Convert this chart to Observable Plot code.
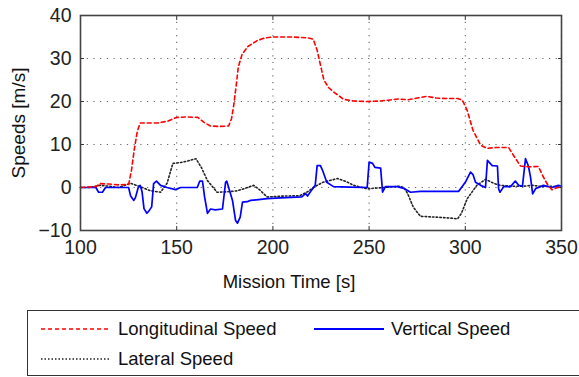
<!DOCTYPE html>
<html>
<head>
<meta charset="utf-8">
<script src="https://cdn.jsdelivr.net/npm/d3@7"></script>
<script src="https://cdn.jsdelivr.net/npm/@observablehq/plot@0.6"></script>
<style>
  body { margin: 0; background: #fff; font-family: "Liberation Sans", Arial, sans-serif; }
  #wrap { position: relative; width: 579px; height: 377px; overflow: hidden; }
  #chart { position: absolute; left: 0; top: 0; }
  #legend { position: absolute; left: 27px; top: 310px; width: 570px; height: 66px; border: 1px solid #333; box-sizing: border-box; font-size: 18.5px; color: #111; }
  .item { position: absolute; display: flex; align-items: center; height: 22px; }
  .item svg { margin-right: 6px; }
</style>
</head>
<body>
<div id="wrap">
  <div id="chart"></div>
  <div id="legend"></div>
</div>
<script>
// ---- data ----
const xTicks = [100, 150, 200, 250, 300, 350];
const yTicks = [-10, 0, 10, 20, 30, 40];

const longT = [100, 108, 110, 115, 120, 125, 126.5, 128, 129.5, 131, 140, 145, 150, 155, 161, 164, 167.5, 172, 177, 178.5, 179.6, 181, 182, 184, 187, 192, 196, 200, 210, 218, 221, 223, 226.5, 229, 231.6, 236.8, 242, 249, 255, 260, 265, 270, 275, 280, 285, 290, 296, 298.5, 301, 304, 308, 311.5, 316, 322.5, 325, 328.7, 333, 338, 340.5, 343, 345, 348, 350];
const longV = [0, 0.2, 0.9, 0.8, 0.6, 0.7, 4, 9, 13, 15, 15, 15.4, 16.3, 16.4, 16.3, 15.2, 14.3, 14.2, 14.3, 16, 19, 24, 28, 31, 32.8, 34.2, 34.8, 35, 35, 34.8, 34.5, 31.9, 25, 23.2, 22.2, 20.5, 20.1, 20, 20.1, 20.3, 20.6, 20.4, 20.8, 21.2, 20.8, 20.7, 20.7, 20.3, 17.9, 13.3, 9.8, 9.1, 9.3, 9.3, 7.5, 5, 4.8, 4.9, 2.5, 0.5, -0.5, 0, 0];

const latT = [100, 105, 110, 115, 120, 126, 131, 136, 141.6, 145, 148, 152, 156, 160, 163, 166, 171, 176, 181, 185, 190, 193, 197, 205, 214, 218, 221, 226, 233.6, 238, 242, 249, 258, 266, 268, 270, 273, 276.7, 285, 292, 296, 298, 301, 306, 310.5, 314.7, 318, 325, 330, 335, 340, 345, 350];
const latV = [0, 0, 0.5, 0.3, 0, 1, 0.2, -0.7, -1.1, 1, 5.6, 5.8, 6.2, 6.7, 4.5, 1.6, -1.1, -1, -0.8, -0.3, 0.5, -0.5, -2.2, -2, -1.9, -1, 0, 1.2, 2.1, 1.4, 0.5, -0.3, 0, 0.3, 0, -1.4, -4.6, -6.7, -6.9, -7.1, -7.3, -6, -2.6, 0.5, 1.9, 1, 0.5, 0.3, 0.3, 0.5, 0.2, 0.3, 0];

const vertT = [100, 108, 109.4, 111.4, 113, 125, 126, 127.7, 128.6, 130, 131, 132, 133, 134.5, 135.5, 137, 138, 139.5, 141.6, 145, 149.4, 152, 160.7, 162, 163.4, 164.5, 166, 167.6, 170, 173.8, 175.4, 176, 177, 179, 180.6, 181.6, 183, 184.2, 186.6, 188.4, 197, 204, 215, 217, 218, 219.5, 222, 223, 224.7, 225.8, 228, 231.5, 240, 249, 250, 251.8, 253, 256, 257, 258.5, 264.7, 268, 271.5, 276.7, 296.5, 298.5, 300, 302.7, 304, 305.3, 308, 310.5, 311.5, 314, 316.7, 317.3, 318, 320, 323.5, 326, 327.7, 329.7, 331.3, 332.8, 333.9, 335, 336.5, 340.6, 345, 348.4, 350];
const vertV = [0, 0, -1.1, -1.1, 0, 0, -1.9, -3, -2.3, 0, 0.5, -1, -4.9, -6, -5.5, -4.5, 0.9, 1.5, 0.5, 0, -0.5, 0, 0, 1.5, 1.5, -2.2, -6, -5, -5.2, -5, 1.2, 1.5, 0, -3, -7.7, -8.3, -6.9, -3.4, -3.3, -3, -2.6, -2.4, -2.2, -1.4, -2, -1, 0.5, 5.1, 5.1, 4, 1.2, 0.2, 0.1, 0, 5.9, 5.6, 4.7, 4.5, -1.1, 0.2, 0.2, -0.2, -1.1, -0.9, -0.9, 0.3, 1.2, 3.6, 3, 1.2, 0.5, 0, 6.3, 5.1, 5, -0.3, -1.1, 0.2, 0.2, 1.5, 0.5, 0.3, 6.7, 5, 2.4, -1.5, -0.3, 0.5, 0, 0.5, 0.3];

const seriesNames = ["Longitudinal Speed", "Vertical Speed", "Lateral Speed"];
const xLabel = "Mission Time [s]";
const yLabel = "Speeds [m/s]";

// ---- build tables ----
const longData = longT.map((t, i) => ({t, v: longV[i]}));
const latData = latT.map((t, i) => ({t, v: latV[i]}));
const vertData = vertT.map((t, i) => ({t, v: vertV[i]}));

const gridStyle = {stroke: "#666", strokeOpacity: 1, strokeDasharray: "1.2,5.5", strokeWidth: 1.1};

const chart = Plot.plot({
  width: 579,
  height: 305,
  marginLeft: 80,
  marginRight: 18,
  marginTop: 15,
  marginBottom: 75,
  style: {fontFamily: "Liberation Sans, Arial, sans-serif", fontSize: "19px", color: "#222", background: "#fff"},
  x: {domain: [100, 350], ticks: xTicks},
  y: {domain: [-10, 40], ticks: yTicks},
  marks: [
    Plot.gridX(xTicks, gridStyle),
    Plot.gridY(yTicks, gridStyle),
    Plot.axisX({ticks: xTicks, tickSize: 0, tickPadding: 10, fontSize: 19.5, label: null}),
    Plot.axisY({ticks: yTicks, tickSize: 0, tickPadding: 9, fontSize: 19.5, label: null}),
    Plot.axisX({ticks: xTicks, anchor: "bottom", tickSize: -4, tickFormat: () => "", label: null, stroke: "#333"}),
    Plot.axisX({ticks: xTicks, anchor: "top", tickSize: -4, tickFormat: () => "", label: null, stroke: "#333"}),
    Plot.axisY({ticks: yTicks, anchor: "left", tickSize: -4, tickFormat: () => "", label: null, stroke: "#333"}),
    Plot.axisY({ticks: yTicks, anchor: "right", tickSize: -4, tickFormat: () => "", label: null, stroke: "#333"}),
    Plot.line(latData, {x: "t", y: "v", stroke: "#222", strokeWidth: 1.6, strokeDasharray: "1.5,2.2"}),
    Plot.line(vertData, {x: "t", y: "v", stroke: "#0000ff", strokeWidth: 1.7}),
    Plot.line(longData, {x: "t", y: "v", stroke: "#ff0000", strokeWidth: 1.6, strokeDasharray: "4,3"}),
    Plot.frame({stroke: "#444", strokeWidth: 1.6}),
    Plot.text([xLabel], {frameAnchor: "bottom", dx: -32, dy: 57, fontSize: 18.5, fill: "#111"}),
    Plot.text([yLabel], {frameAnchor: "left", textAnchor: "middle", dx: -62, dy: 0, rotate: -90, fontSize: 19, fill: "#111"})
  ]
});
document.getElementById("chart").appendChild(chart);

// ---- legend ----
const legend = document.getElementById("legend");
const legendItems = [
  {name: seriesNames[0], color: "#ff0000", dash: "4,3", left: 12, top: 7},
  {name: seriesNames[1], color: "#0000ff", dash: null, left: 285, top: 7},
  {name: seriesNames[2], color: "#222", dash: "1.5,2", left: 12, top: 37}
];
legendItems.forEach(it => {
  const div = document.createElement("div");
  div.className = "item";
  div.style.left = it.left + "px";
  div.style.top = it.top + "px";
  div.innerHTML = `<svg width="72" height="20"><line x1="1" x2="71" y1="10" y2="10" stroke="${it.color}" stroke-width="${it.dash ? 1.3 : 1.8}" ${it.dash ? `stroke-dasharray="${it.dash}"` : ""}/></svg><span>${it.name}</span>`;
  legend.appendChild(div);
});
</script>
</body>
</html>
